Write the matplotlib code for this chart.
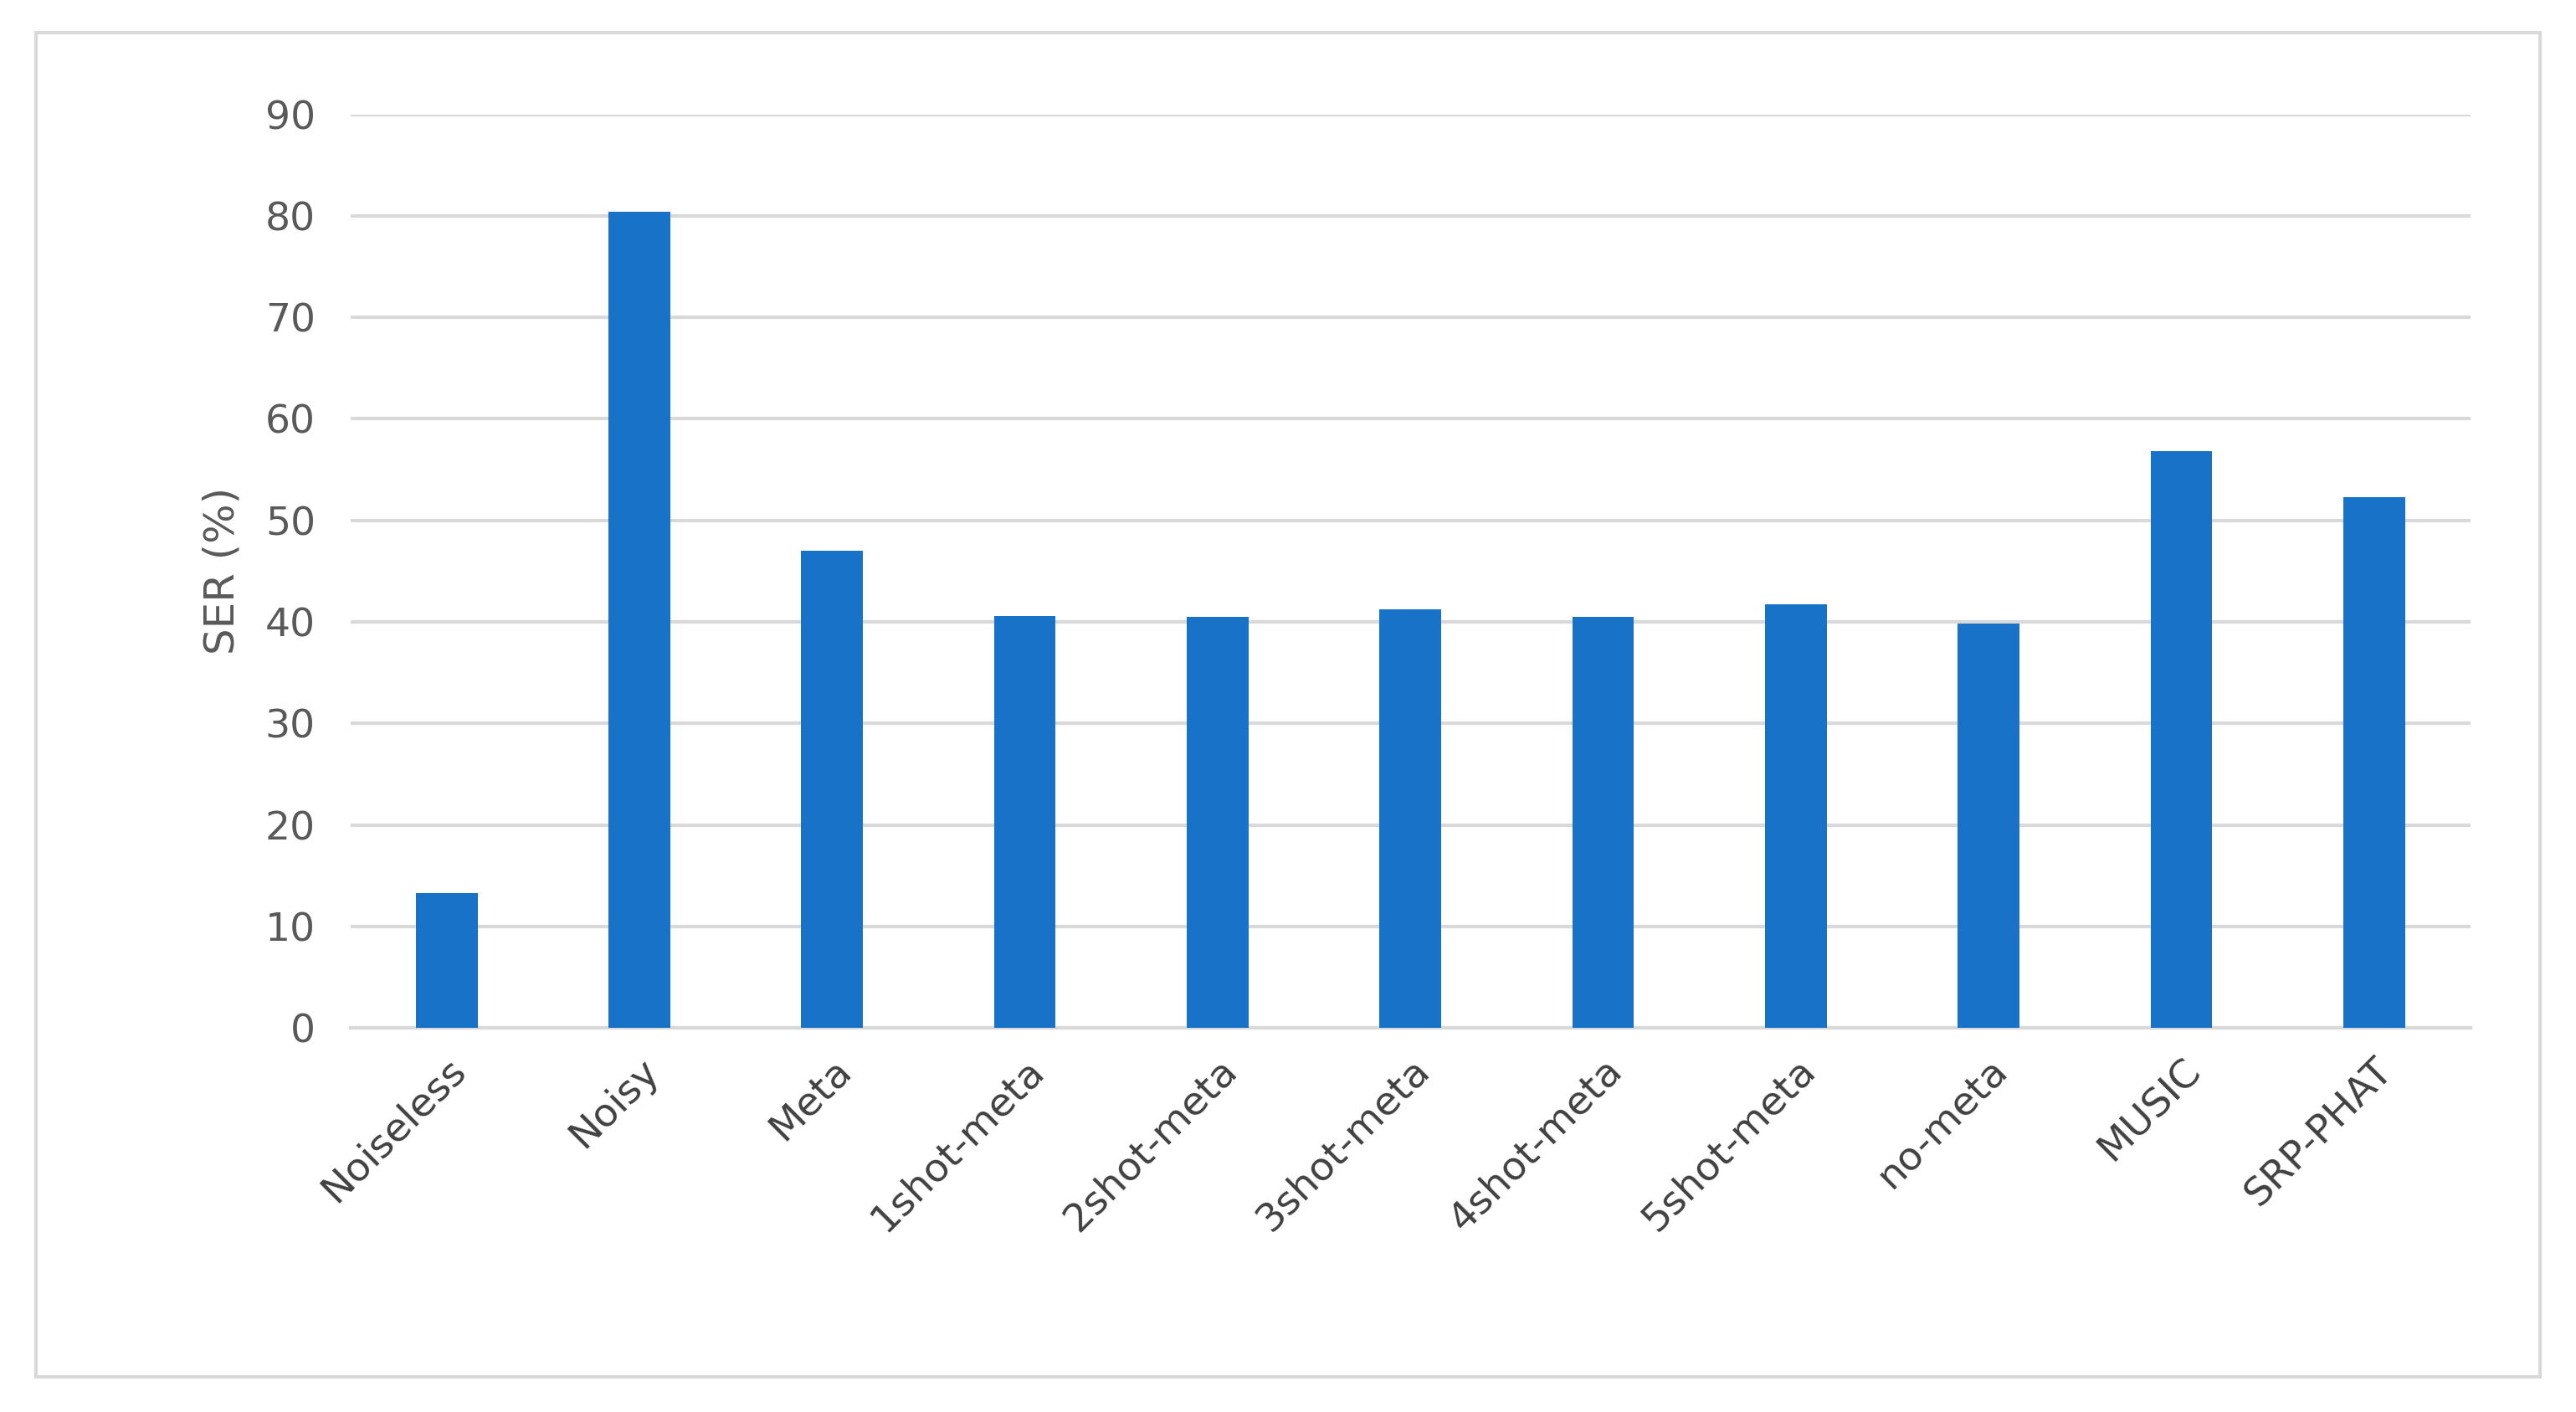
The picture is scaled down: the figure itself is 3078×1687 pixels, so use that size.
import matplotlib
matplotlib.use("Agg")
import matplotlib.pyplot as plt
from matplotlib.patches import Rectangle

categories = ["Noiseless", "Noisy", "Meta", "1shot-meta", "2shot-meta", "3shot-meta",
              "4shot-meta", "5shot-meta", "no-meta", "MUSIC", "SRP-PHAT"]
values = [13.3, 80.4, 47.0, 40.6, 40.5, 41.2, 40.5, 41.7, 39.8, 56.8, 52.3]
yticks = [0, 10, 20, 30, 40, 50, 60, 70, 80, 90]

fig = plt.figure(figsize=(30.78, 16.87), dpi=100)
fig.patches.append(Rectangle((0.014, 0.025), 0.972, 0.952, transform=fig.transFigure,
                             fill=False, edgecolor="#d9d9d9", linewidth=3))
ax = fig.add_axes([0.136, 0.272, 0.823, 0.647])
x = range(len(categories))
ax.bar(x, values, width=0.32, color="#1872c8", zorder=3)
ax.set_ylim(0, 90)
ax.set_xlim(-0.5, len(categories) - 0.5)
ax.set_yticks(yticks)
ax.grid(axis="y", color="#d9d9d9", linewidth=3, zorder=0)
for s in ["top", "right", "left"]:
    ax.spines[s].set_visible(False)
ax.spines["bottom"].set_color("#d9d9d9")
ax.spines["bottom"].set_linewidth(3)
ax.tick_params(axis="y", length=0, labelsize=34, labelcolor="#595959", pad=30)
ax.tick_params(axis="x", length=0, labelsize=34, labelcolor="#404040", pad=20)
ax.set_xticks(list(x))
ax.set_xticklabels(categories, rotation=45, ha="right", rotation_mode="anchor")
ax.set_ylabel("SER (%)", fontsize=36, color="#595959", labelpad=20)
fig.savefig("out.png", dpi=100)
